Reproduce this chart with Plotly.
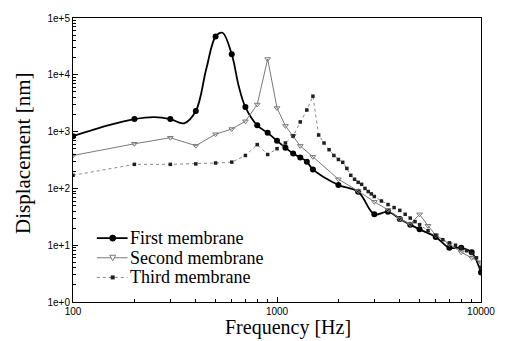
import plotly.graph_objects as go

# ---- data ----
# First membrane: measured points (markers) and the smooth fitted curve through them
first_freq = [100, 200, 300, 400, 500, 600, 700, 800, 900, 1000, 1100, 1200, 1300, 1400, 1500,
              2000, 2500, 3000, 3500, 4000, 4500, 5000, 6000, 7000, 8000, 9000, 10000]
first_disp = [830, 1660, 1660, 2300, 47000, 23000, 2700, 1290, 950, 690, 520, 410, 350, 296, 216,
              115, 87, 35, 39, 29, 23, 19, 14, 9.0, 9.0, 7.5, 3.3]
first_curve_freq = [100, 150, 200, 250, 300, 350, 400, 450, 500, 540, 600, 650, 700, 800, 900,
                    1000, 1100, 1200, 1300, 1400, 1500, 2000, 2500, 3000, 3500, 4000, 4500, 5000,
                    6000, 7000, 8000, 9000, 10000]
first_curve_disp = [830, 1300, 1660, 1800, 1660, 1400, 2300, 12600, 47000, 55000, 23000, 6200, 2700,
                    1290, 950, 690, 520, 410, 350, 296, 216, 115, 87, 35, 39, 29, 23, 19,
                    14, 9.0, 9.0, 7.5, 3.3]

second_freq = [100, 200, 300, 400, 500, 600, 700, 800, 900, 1000, 1100, 1200, 1300, 1500,
               2000, 2500, 3000, 3500, 4000, 4500, 5000, 5500, 6000, 7000, 8000, 9000, 10000]
second_disp = [380, 610, 780, 565, 900, 1110, 1520, 3000, 19000, 2600, 1260, 840, 560, 360,
               145, 90, 58, 42, 29, 23.5, 35, 22, 15, 10.5, 7.5, 6.0, 5.0]

third_freq = [100, 200, 300, 400, 500, 600, 700, 800, 900, 1000, 1100, 1200, 1300, 1400, 1500,
              1600, 1700, 1800, 1900, 2000, 2100, 2200, 2300, 2400, 2500, 2600, 2700, 2800, 2900,
              3000, 3250, 3500, 3750, 4000, 4250, 4500, 4750, 5000, 5500, 6000, 6500, 7000, 7500,
              8000, 8500, 9000, 9500, 10000]
third_disp = [170, 265, 265, 270, 280, 290, 380, 590, 395, 500, 630, 840, 1480, 2400, 4200,
              870, 630, 480, 380, 323, 288, 225, 170, 145, 128, 118, 100, 88, 80,
              72, 60, 52, 46, 41, 35, 30, 26, 23, 18, 15, 12.5, 11, 10,
              8.9, 8.0, 7.2, 6.0, 4.1]

series_names = ["First membrane", "Second membrane", "Third membrane"]
x_title = "Frequency [Hz]"
y_title = "Displacement [nm]"

x_tickvals = [100, 1000, 10000]
x_ticktext = ["100", "1000", "10000"]
y_tickvals = [1, 10, 100, 1000, 10000, 100000]
y_ticktext = ["1e+0", "1e+1", "1e+2", "1e+3", "1e+4", "1e+5"]

SERIF = "Liberation Serif, Times New Roman, serif"
C_FIRST = "black"
C_SECOND = "#7a7a7a"
C_THIRD = "#8a8a8a"

fig = go.Figure()
fig.add_trace(go.Scatter(
    x=first_curve_freq, y=first_curve_disp, mode="lines", showlegend=False, hoverinfo="skip",
    line=dict(color=C_FIRST, width=1.8, shape="spline", smoothing=1.0)))
fig.add_trace(go.Scatter(
    x=first_freq, y=first_disp, name=series_names[0], mode="markers", showlegend=False,
    marker=dict(symbol="circle", size=6, color=C_FIRST)))
fig.add_trace(go.Scatter(
    x=second_freq, y=second_disp, name=series_names[1], mode="lines+markers", showlegend=False,
    line=dict(color=C_SECOND, width=1),
    marker=dict(symbol="triangle-down-open", size=5, color=C_SECOND, line=dict(width=1))))
fig.add_trace(go.Scatter(
    x=third_freq, y=third_disp, name=series_names[2], mode="lines+markers", showlegend=False,
    line=dict(color=C_THIRD, width=1, dash="dot"),
    marker=dict(symbol="square", size=3.5, color="#202020")))

axis_common = dict(
    showline=True, linecolor="black", linewidth=1, mirror=True,
    showgrid=False, zeroline=False, ticks="inside", ticklen=5, tickcolor="black",
    tickfont=dict(family="Arial, Liberation Sans, sans-serif", size=10, color="black"),
)
fig.update_xaxes(type="log", range=[2, 4], tickvals=x_tickvals, ticktext=x_ticktext,
                 minor=dict(ticks="inside", ticklen=3, tickcolor="black", dtick="D1", showgrid=False),
                 **axis_common)
fig.update_yaxes(type="log", range=[0, 5], tickvals=y_tickvals, ticktext=y_ticktext,
                 minor=dict(ticks="inside", ticklen=3, tickcolor="black", dtick="D1", showgrid=False),
                 **axis_common)

# ---- layout helpers: plot area in pixels ----
PL, PT, PW, PH = 73, 13, 411, 289


def px(x):
    return (x - PL) / PW


def py(y):
    return (PT + PH - y) / PH


shapes = []
annotations = []

# axis titles
annotations.append(dict(text=x_title, xref="paper", yref="paper", x=px(290), y=py(340.5),
                        xanchor="center", yanchor="bottom", showarrow=False, borderpad=0,
                        font=dict(family=SERIF, size=20, color="black")))
annotations.append(dict(text=y_title, xref="paper", yref="paper", x=px(22), y=py(150),
                        xanchor="center", yanchor="middle", textangle=-90, showarrow=False,
                        borderpad=0, font=dict(family=SERIF, size=21, color="black")))

# hand-built compact legend
legend_rows = [237, 257, 277]
sample_x0, sample_x1, sample_mid, text_x = 97, 128, 113, 129
line_styles = [dict(color=C_FIRST, width=1.8), dict(color=C_SECOND, width=1),
               dict(color=C_THIRD, width=1, dash="dot")]
for i, (name, ly) in enumerate(zip(series_names, legend_rows)):
    shapes.append(dict(type="line", xref="paper", yref="paper",
                       x0=px(sample_x0), x1=px(sample_x1), y0=py(ly), y1=py(ly),
                       line=line_styles[i]))
    annotations.append(dict(text=name, xref="paper", yref="paper", x=px(text_x), y=py(ly),
                            xanchor="left", yanchor="middle", showarrow=False, borderpad=0,
                            font=dict(family=SERIF, size=18, color="black")))
shapes.append(dict(type="circle", xref="paper", yref="paper", xsizemode="pixel", ysizemode="pixel",
                   xanchor=px(sample_mid), yanchor=py(legend_rows[0]), x0=-3, x1=3, y0=-3, y1=3,
                   fillcolor=C_FIRST, line=dict(color=C_FIRST, width=1)))
shapes.append(dict(type="path", xref="paper", yref="paper", xsizemode="pixel", ysizemode="pixel",
                   xanchor=px(sample_mid), yanchor=py(legend_rows[1]),
                   path="M-3,2.5 L3,2.5 L0,-3 Z", fillcolor="white",
                   line=dict(color=C_SECOND, width=1)))
shapes.append(dict(type="rect", xref="paper", yref="paper", xsizemode="pixel", ysizemode="pixel",
                   xanchor=px(sample_mid), yanchor=py(legend_rows[2]), x0=-2, x1=2, y0=-2, y1=2,
                   fillcolor="#202020", line=dict(color="#202020", width=0)))

fig.update_layout(
    width=507, height=341,
    margin=dict(l=PL, r=507 - PL - PW, t=PT, b=341 - PT - PH),
    paper_bgcolor="white", plot_bgcolor="white",
    showlegend=False,
    shapes=shapes,
    annotations=annotations,
)

# remove the default page margin so the figure sits at the window's top-left corner
fig.write_html("out.html",
               config={"displayModeBar": False},
               post_script="document.body.style.margin='0';document.body.style.overflow='hidden';")
